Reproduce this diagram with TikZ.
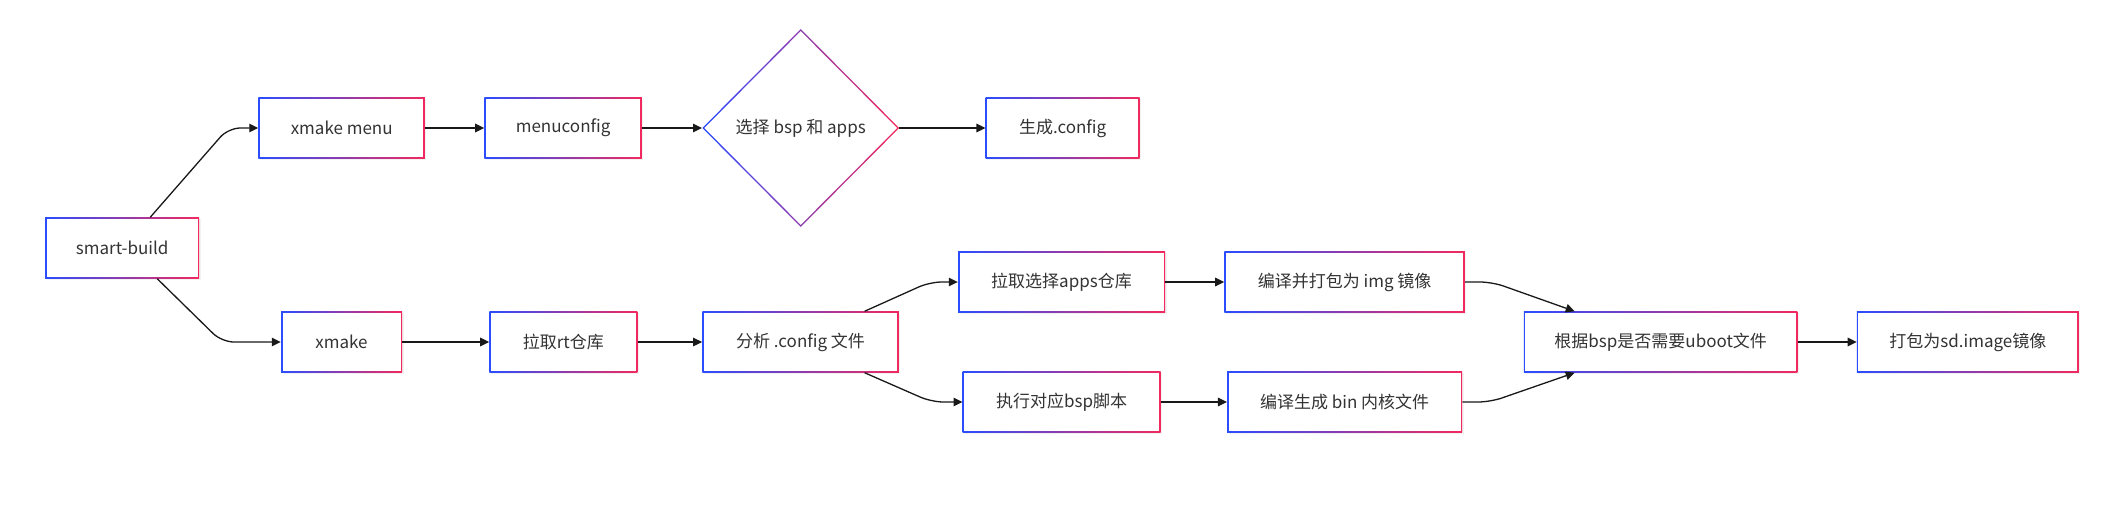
\documentclass[tikz,border=0pt]{standalone}
\usepackage{fontspec}
\setmainfont{Noto Sans CJK SC}
\usetikzlibrary{shapes,shapes.geometric,arrows.meta,positioning,calc,shadows}

\definecolor{borderblue}{HTML}{2A4DFF}
\definecolor{borderred}{HTML}{F2295E}
\definecolor{textgray}{HTML}{333333}

\begin{document}
\begin{tikzpicture}[
        x=1pt, y=-1pt,
        node distance=59pt,
        every node/.style={font=\fontsize{17pt}{20pt}\selectfont, text=textgray},
        process/.style={rectangle, fill=white, minimum height=61pt, inner sep=0pt, align=center,
            drop shadow={opacity=0.1, shadow xshift=1.5pt, shadow yshift=-1.5pt},
            path picture={
                \shade[left color=borderblue, right color=borderred] (path picture bounding box.south west) rectangle (path picture bounding box.north east);
                \fill[white] ([shift={(1.5pt,1.5pt)}]path picture bounding box.south west) rectangle ([shift={(-1.5pt,-1.5pt)}]path picture bounding box.north east);
            }},
        decision/.style={diamond, aspect=1, fill=white, minimum width=197pt, minimum height=198pt, inner sep=0pt, align=center,
            path picture={
                \shade[left color=borderblue, right color=borderred] (path picture bounding box.south west) rectangle (path picture bounding box.north east);
                \fill[white] ([xshift=2.1pt]path picture bounding box.west) -- ([yshift=-2.1pt]path picture bounding box.north) -- ([xshift=-2.1pt]path picture bounding box.east) -- ([yshift=2.1pt]path picture bounding box.south) -- cycle;
            }},
        line/.style={-{Triangle[length=9pt,width=8.5pt]}, line width=1.3pt, black!90}
    ]
        \useasboundingbox (0,0) rectangle (2113,517);

        % top branch
        \node[process, minimum width=154pt] (build) at (122.2,248) {smart-build};
        \node[process, minimum width=166.5pt] (menu) at (341.7,128) {xmake menu};
        \node[process, minimum width=157.5pt, right=of menu] (menucfg) {menuconfig};
        \node[decision, right=60pt of menucfg] (choose) {选择 bsp 和 apps};
        \node[process, minimum width=154pt, right=86pt of choose] (genconfig) {生成.config};

        % bottom branch
        \node[process, minimum width=121pt] (xmk) at (341.5,342) {xmake};
        \node[process, minimum width=148pt, right=87pt of xmk] (pullrt) {拉取rt仓库};
        \node[process, minimum width=196.5pt, right=64.5pt of pullrt] (parse) {分析 .config 文件};
        \node[process, minimum width=207pt] (pullapps) at (1061.5,282) {拉取选择apps仓库};
        \node[process, minimum width=198pt] (runbsp) at (1061.7,402) {执行对应bsp脚本};
        \node[process, minimum width=240.5pt, right=of pullapps] (buildimg) {编译并打包为 img 镜像};
        \node[process, minimum width=235pt, right=66pt of runbsp] (buildbin) {编译生成 bin 内核文件};
        \node[process, minimum width=273.5pt] (check) at (1660.7,342) {根据bsp是否需要uboot文件};
        \node[process, minimum width=222pt, right=of check] (pack) {打包为sd.image镜像};

        \draw[line, rounded corners=12pt] ([xshift=28pt]build.north) -- ([xshift=-30pt]menu.west) -- (menu.west);
        \draw[line, rounded corners=12pt] ([xshift=35pt]build.south) -- ([xshift=-59pt]xmk.west) -- (xmk.west);
        \draw[line] (menu) -- (menucfg);
        \draw[line] (menucfg) -- (choose);
        \draw[line] (choose) -- (genconfig);
        \draw[line] (xmk) -- (pullrt);
        \draw[line] (pullrt) -- (parse);
        \draw[line, rounded corners=12pt] ([xshift=64pt]parse.north) -- ([xshift=-28pt]pullapps.west) -- (pullapps.west);
        \draw[line, rounded corners=12pt] ([xshift=64pt]parse.south) -- ([xshift=-31pt]runbsp.west) -- (runbsp.west);
        \draw[line] (pullapps) -- (buildimg);
        \draw[line] (runbsp) -- (buildbin);
        \draw[line, rounded corners=12pt] (buildimg.east) -- ([xshift=27pt]buildimg.east) -- ([xshift=-86pt]check.north);
        \draw[line, rounded corners=12pt] (buildbin.east) -- ([xshift=28pt]buildbin.east) -- ([xshift=-86pt]check.south);
        \draw[line] (check) -- (pack);
    \end{tikzpicture}
\end{document}
